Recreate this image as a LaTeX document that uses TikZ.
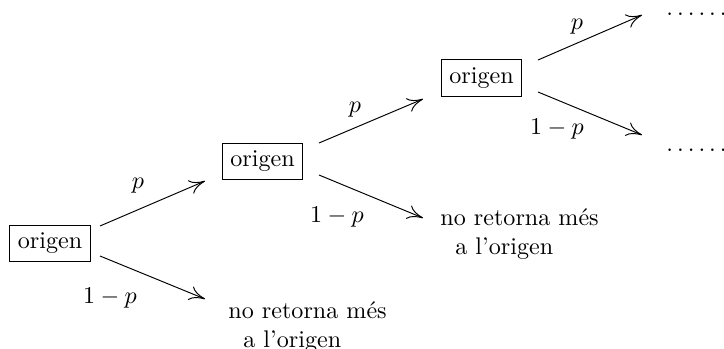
\documentclass[tikz,border=0pt]{standalone}
\usetikzlibrary{arrows.meta}
\begin{document}
\begin{tikzpicture}[x=0.415pt,y=-0.415pt,
  box/.style={draw,inner sep=3.33pt},
  lab/.style={inner sep=0pt},
  outcome/.style={inner sep=0pt,anchor=base west,align=left},
  arr/.style={-{To[length=6.5pt,width=6pt]}}]
\useasboundingbox (0,0) rectangle (724,349);
\node[box] (o1) at (50,243.5) {origen};
\node[box] (o2) at (262.5,161.5) {origen};
\node[box] (o3) at (481.5,78) {origen};
% arrow end points
\coordinate (u1s) at (100,226); \coordinate (u1e) at (205,181);
\coordinate (d1s) at (100,256); \coordinate (d1e) at (205,299);
\coordinate (u2s) at (319,143); \coordinate (u2e) at (423,99);
\coordinate (d2s) at (319,175); \coordinate (d2e) at (423,218);
\coordinate (u3s) at (538,60);  \coordinate (u3e) at (642,15);
\coordinate (d3s) at (538,92);  \coordinate (d3e) at (642,135);
\draw[arr] (u1s) -- (u1e);
\draw[arr] (d1s) -- (d1e);
\draw[arr] (u2s) -- (u2e);
\draw[arr] (d2s) -- (d2e);
\draw[arr] (u3s) -- (u3e);
\draw[arr] (d3s) -- (d3e);
% labels
\node[lab] (p1) at (138,186) {$p$};
\node[lab] (q1) at (110,298) {$1-p$};
\node[lab] (p2) at (355,110) {$p$};
\node[lab] (q2) at (337,217) {$1-p$};
\node[lab] (p3) at (577,27) {$p$};
\node[lab] (q3) at (557,129) {$1-p$};
% outcomes
\node[outcome] (n1) at (228,347) {no retorna més\\\hspace*{6.2pt}a l'origen};
\node[outcome] (n2) at (440,254) {no retorna més\\\hspace*{6.2pt}a l'origen};
\node[lab,anchor=base west] (e1) at (666,15.5) {$\ldots\ldots$};
\node[lab,anchor=base west] (e2) at (666,151.5) {$\ldots\ldots$};
\end{tikzpicture}
\end{document}
